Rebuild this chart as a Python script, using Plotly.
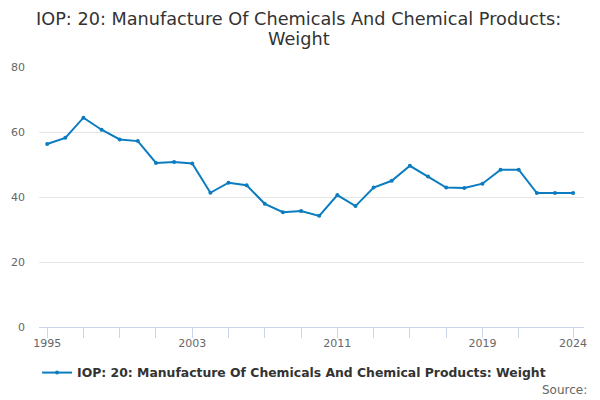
import plotly.graph_objects as go

years = list(range(1995, 2025))
values = [56.3, 58.2, 64.4, 60.7, 57.7, 57.2, 50.5, 50.8, 50.3, 41.3,
          44.4, 43.6, 37.9, 35.3, 35.7, 34.2, 40.6, 37.2, 42.9, 45.0,
          49.6, 46.3, 42.9, 42.8, 44.1, 48.4, 48.4, 41.2, 41.2, 41.2]
series_name = "<b>IOP: 20: Manufacture Of Chemicals And Chemical Products: Weight</b>"
title_lines = ["IOP: 20: Manufacture Of Chemicals And Chemical Products:", "Weight"]
tick_years = list(range(1995, 2022, 2)) + [2024]
label_years = [1995, 2003, 2011, 2019, 2024]
y_ticks = [0, 20, 40, 60, 80]

font_family = "DejaVu Sans, Verdana, sans-serif"
line_color = "#0b7cbf"

fig = go.Figure()
fig.add_trace(go.Scatter(
    x=years, y=values, mode="lines+markers", name=series_name,
    line=dict(color=line_color, width=2),
    marker=dict(size=4, color=line_color),
))

fig.update_layout(
    width=600, height=400,
    margin=dict(l=31, r=24, t=59, b=81, autoexpand=False),
    paper_bgcolor="white", plot_bgcolor="white",
    font=dict(family=font_family, color="#666666", size=11),
    showlegend=True,
    legend=dict(orientation="h", x=0.468, xanchor="center", y=-0.177, yanchor="middle",
                font=dict(size=12.4, color="#333333", family=font_family),
                itemwidth=30),
    xaxis=dict(
        range=[1994.55, 2024.6], automargin=False,
        tickvals=tick_years,
        ticktext=[str(y) if y in label_years else "" for y in tick_years],
        ticks="outside", ticklen=10, tickcolor="#ccd6eb", tickwidth=1,
        ticklabelstandoff=-4,
        showgrid=False, showline=True, linecolor="#ccd6eb", linewidth=1,
        zeroline=False, tickfont=dict(size=11, color="#666666"),
    ),
    yaxis=dict(
        range=[0, 80], tickvals=y_ticks, automargin=False,
        showgrid=True, gridcolor="#e6e6e6", gridwidth=1,
        zeroline=False, showline=False, ticks="",
        ticklabelstandoff=13,
        tickfont=dict(size=11, color="#666666"),
    ),
)
for line_text, ypos in zip(title_lines, [1.1865, 1.1058]):
    fig.add_annotation(text=line_text, xref="paper", yref="paper", x=0.477, y=ypos,
                       xanchor="center", yanchor="middle", showarrow=False, borderpad=0,
                       font=dict(size=17.7, color="#333333", family=font_family))
fig.add_annotation(text="Source:", xref="paper", yref="paper", x=1.009, y=-0.242,
                   xanchor="right", yanchor="middle", showarrow=False,
                   font=dict(size=12, color="#666666", family=font_family))

fig.write_html("out.html")
